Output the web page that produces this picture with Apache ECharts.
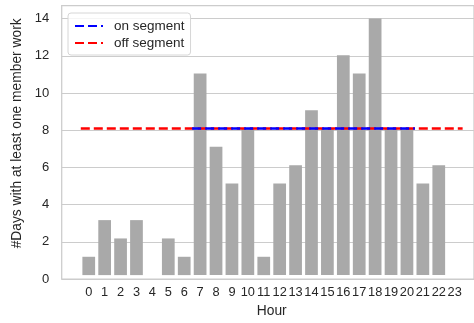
<!DOCTYPE html>
<html>
<head>
<meta charset="utf-8">
<script src="https://cdn.jsdelivr.net/npm/echarts@6/dist/echarts.min.js"></script>
<style>html,body{margin:0;padding:0;background:#fff;}#c{width:474px;height:323px;}</style>
</head>
<body>
<div id="c"></div>
<script>
var hours = ['0','1','2','3','4','5','6','7','8','9','10','11','12','13','14','15','16','17','18','19','20','21','22','23'];
var days = [1,3,2,3,0,2,1,11,7,5,8,1,5,6,9,8,12,11,14,8,8,5,6,0];
var onSegment = [[6.5,8],[20.5,8]];
var offSegment = [[-0.5,8],[23.5,8]];
var yTicks = [0,2,4,6,8,10,12,14];

var chart = echarts.init(document.getElementById('c'), null, {renderer:'canvas'});
var font = 'Liberation Sans, Arial, sans-serif';
var txt = '#262626';
var P = 15.91; // px per hour unit
var TOP = 5.7, H = 273.3;
chart.setOption({
  animation:false,
  backgroundColor:'#fff',
  legend:{
    data:['on segment','off segment'],
    orient:'vertical', left:68, top:13,
    itemWidth:28, itemHeight:10, itemGap:3,
    padding:[6,6,5,6],
    backgroundColor:'rgba(255,255,255,0.8)',
    borderColor:'#d6d6d6', borderWidth:1, borderRadius:3,
    itemStyle:{opacity:0},
    textStyle:{fontFamily:font,fontSize:13.5,color:txt,padding:[0,0,0,6]}
  },
  grid:[
    {left:61.7, top:TOP, width:26.4*P, height:H, show:true, borderColor:'#cccccc', borderWidth:1.25, backgroundColor:'#fff'},
    {left:61.7+1.2*P, top:TOP, width:24*P, height:H}
  ],
  xAxis:[
    {type:'value', gridIndex:0, min:-1.7, max:24.7, show:false},
    {type:'category', gridIndex:1, data:hours, boundaryGap:true,
     axisLine:{show:false}, axisTick:{show:false}, splitLine:{show:false},
     axisLabel:{interval:0, margin:11, fontFamily:font, fontSize:12.8, color:txt},
     name:'Hour', nameLocation:'middle', nameGap:28,
     nameTextStyle:{fontFamily:font, fontSize:13.8, color:txt}},
    {type:'value', gridIndex:1, min:-0.5, max:23.5, show:false}
  ],
  yAxis:[
    {type:'value', gridIndex:0, min:0, max:14.7, interval:2,
     axisLine:{show:false}, axisTick:{show:false},
     splitLine:{lineStyle:{color:'#cccccc', width:1}},
     axisLabel:{margin:12.5, fontFamily:font, fontSize:13, color:txt, showMaxLabel:false,
       formatter:function(v){return yTicks.indexOf(v)>=0 ? String(v) : '';}},
     name:'#Days with at least one member work', nameLocation:'middle', nameGap:28,
     nameTextStyle:{fontFamily:font, fontSize:13.8, color:txt, padding:[0,0,0,18]}},
    {type:'value', gridIndex:1, min:0, max:14.7, show:false}
  ],
  series:[
    {type:'bar', name:'days', xAxisIndex:1, yAxisIndex:1, data:days, barWidth:'80%',
     itemStyle:{color:'#a9a9a9'}, z:2},
    {type:'line', name:'off segment', xAxisIndex:2, yAxisIndex:1, data:offSegment, symbol:'none',
     lineStyle:{color:'#ff0000', width:2.5, type:[9,4]}, itemStyle:{color:'#ff0000'}, z:3},
    {type:'line', name:'on segment', xAxisIndex:2, yAxisIndex:1, data:onSegment, symbol:'none',
     lineStyle:{color:'#0000ff', width:2.5, type:[9,4]}, itemStyle:{color:'#0000ff'}, z:4}
  ]
});
</script>
</body>
</html>
